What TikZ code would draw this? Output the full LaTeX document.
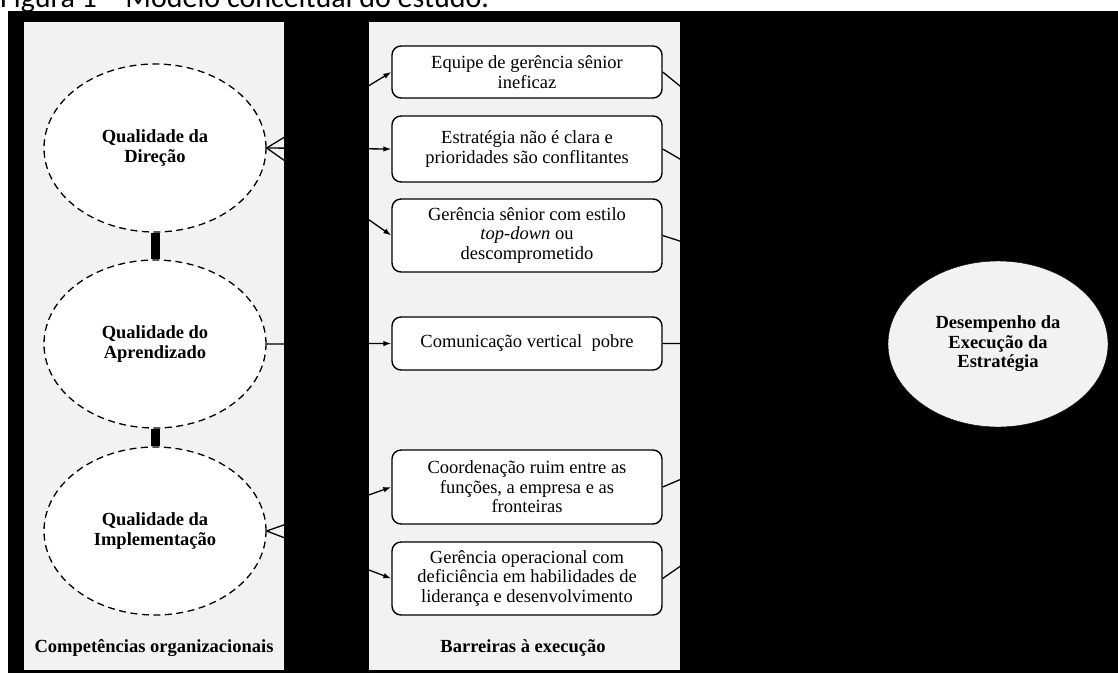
\documentclass[tikz,border=0pt]{standalone}
\usepackage{fontspec}
\setmainfont{Liberation Serif}
\newfontfamily\titlefont{Carlito}
\usetikzlibrary{shapes.geometric,arrows.meta}
\definecolor{panelgray}{RGB}{242,242,242}
\begin{document}
\begin{tikzpicture}[x=1pt,y=-1pt,
  txt/.style={font=\fontsize{18.5}{19.5}\selectfont, align=center},
  qual/.style={ellipse, draw=black, fill=white, line width=1.3pt, dash pattern=on 7pt off 4.5pt,
    minimum width=222pt, minimum height=168pt, inner sep=0pt, txt, font=\fontsize{18.5}{19.5}\selectfont\bfseries},
  barr/.style={rectangle, rounded corners=9pt, draw=black, fill=white, line width=1.4pt,
    minimum width=270pt, inner sep=0pt, txt},
  perf/.style={ellipse, draw=black, fill=panelgray, minimum width=220pt, minimum height=166pt,
    inner sep=0pt, txt, font=\fontsize{18.5}{19.5}\selectfont\bfseries},
  lab/.style={inner sep=0pt, font=\fontsize{18.5}{19.5}\selectfont\bfseries},
  arr/.style={line width=1.3pt, -{Latex[length=8pt,width=5.5pt]}},
  link/.style={line width=9pt}
]
\useasboundingbox (0,0) rectangle (1118,673);
\node[anchor=base west, inner sep=0pt, font=\titlefont\fontsize{30}{36}\selectfont] (title) at (0,7) {Figura 1 – Modelo conceitual do estudo.};
\fill[black] (8,11) rectangle (1118,673);
\fill[panelgray] (24,22) rectangle (284,670);
\fill[panelgray] (369,22) rectangle (680,670);

\node[qual] (e1) at (155,148) {Qualidade da\\Direção};
\node[qual] (e2) at (155,344) {Qualidade do\\Aprendizado};
\node[qual] (e3) at (155,531) {Qualidade da\\Implementação};
\draw[link] (e1.south) -- (e2.north);
\draw[link] (e2.south) -- (e3.north);

\node[barr, minimum height=52pt] (b1) at (527,72) {Equipe de gerência sênior\\ineficaz};
\node[barr, minimum height=66pt] (b2) at (527,149) {Estratégia não é clara e\\prioridades são conflitantes};
\node[barr, minimum height=73pt] (b3) at (527,235.5) {Gerência sênior com estilo\\\textit{top-down} ou\\descomprometido};
\node[barr, minimum height=53pt] (b4) at (527,343.5) {Comunicação vertical\ \ pobre};
\node[barr, minimum height=74pt] (b5) at (527,487) {Coordenação ruim entre as\\funções, a empresa e as\\fronteiras};
\node[barr, minimum height=73pt] (b6) at (527,578.5) {Gerência operacional com\\deficiência em habilidades de\\liderança e desenvolvimento};

\node[lab] (l1) at (154,648) {Competências organizacionais};
\node[lab] (l2) at (523,648) {Barreiras à execução};

\node[perf] (p) at (998,344) {Desempenho da\\Execução da\\Estratégia};

\draw[arr] (e1.east) -- (b1.west);
\draw[arr] (e1.east) -- (b2.west);
\draw[arr] (e1.east) -- (b3.west);
\draw[arr] (e2.east) -- (b4.west);
\draw[arr] (e3.east) -- (b5.west);
\draw[arr] (e3.east) -- (b6.west);

\draw[arr] (b1.east) -- (p);
\draw[arr] (b2.east) -- (p);
\draw[arr] (b3.east) -- (p);
\draw[arr] (b4.east) -- (p);
\draw[arr] (b5.east) -- (p);
\draw[arr] (b6.east) -- (p);
\end{tikzpicture}
\end{document}
